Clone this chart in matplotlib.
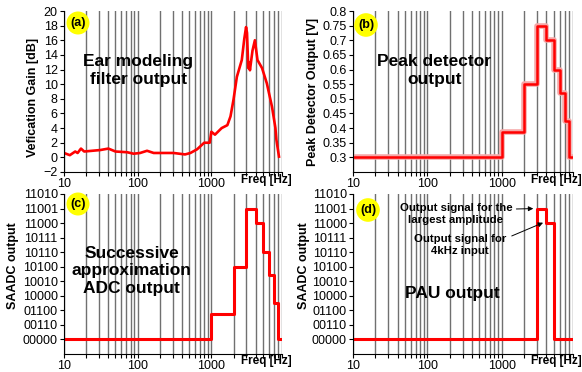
import matplotlib
matplotlib.use('Agg')
import matplotlib.pyplot as plt
import numpy as np

plt.rcParams['font.family'] = ['Liberation Sans', 'DejaVu Sans']

# ---- data ----
freq_a = [10, 12, 14.2, 15.3, 17, 18.8, 31, 40, 50, 72, 88, 108, 134, 165, 307, 440, 520,
          640, 800, 950, 1000, 1120, 1380, 1650, 1820, 2000, 2220, 2590, 2800, 2960, 3050,
          3170, 3270, 3340, 3620, 3900, 4230, 4880, 5670, 6660, 7410, 7640, 8280]
gain_a = [0.6, 0.3, 0.8, 0.6, 1.2, 0.8, 1.0, 1.2, 0.8, 0.7, 0.5, 0.6, 0.9, 0.6, 0.6, 0.4, 0.6,
          1.1, 2.0, 2.0, 3.5, 3.1, 4.0, 4.4, 5.6, 7.9, 11.0, 13.3, 16.2, 17.8, 17.0,
          12.2, 13.0, 11.9, 14.6, 16.0, 13.3, 12.2, 10.1, 6.9, 4.0, 2.4, 0.1]

step_edges = [10, 1000, 2000, 3000, 4000, 5000, 6000, 7000, 8000, 9000]
peak_v = [0.3, 0.3875, 0.55, 0.75, 0.70, 0.60, 0.52, 0.425, 0.30]
saadc_codes = ['00000', '00110', '01100', '10000', '10010', '10100',
               '10110', '10111', '11000', '11001', '11010']
saadc_lvl = [0, 1.75, 5, 9, 8, 6, 4.4, 2.5, 0]
pau_lvl = [0, 0, 0, 9, 8, 0, 0, 0, 0]
xtick_vals = [10, 100, 1000]
xtick_labels = ['10', '100', '1000']

W, H = 582, 372
fig = plt.figure(figsize=(W / 100, H / 100), dpi=100)


def px_axes(l, t, r, b):
    return fig.add_axes([l / W, 1 - b / H, (r - l) / W, (b - t) / H])


def setup(ax):
    ax.set_xscale('log')
    ax.set_xlim(10, 9100)
    ax.set_xticks(xtick_vals)
    ax.set_xticklabels(xtick_labels)
    ax.xaxis.grid(True, which='both', color='#707070', lw=1.0)
    ax.set_axisbelow(True)
    for s in ['top', 'right']:
        ax.spines[s].set_visible(False)
    ax.tick_params(axis='both', which='both', direction='out', length=3, width=0.8,
                   labelsize=9, pad=1.5)
    ax.tick_params(axis='x', which='minor', labelbottom=False)


def step_xy(vals):
    return step_edges, list(vals) + [vals[-1]]


big = dict(ha='center', va='center', fontsize=12.5, fontweight='bold', linespacing=1.2)

# (a)
axa = px_axes(64, 11, 282, 172)
setup(axa)
axa.plot(freq_a, gain_a, color='red', lw=1.9)
axa.set_ylim(-2, 20)
axa.set_yticks(np.arange(-2, 21, 2))
axa.text(0.34, 0.63, 'Ear modeling\nfilter output', transform=axa.transAxes, **big)

# (b)
axb = px_axes(353, 11, 573, 172)
setup(axb)
x, y = step_xy(peak_v)
axb.step(x, y, where='post', color='#f5a8a8', lw=4.0)
axb.step(x, y, where='post', color='red', lw=1.8)
axb.set_ylim(0.25, 0.8)
axb.set_yticks([0.3, 0.35, 0.4, 0.45, 0.5, 0.55, 0.6, 0.65, 0.7, 0.75, 0.8])
axb.set_yticklabels(['0.3', '0.35', '0.4', '0.45', '0.5', '0.55', '0.6', '0.65', '0.7', '0.75', '0.8'])
axb.text(0.37, 0.63, 'Peak detector\noutput', transform=axb.transAxes, **big)

# (c)
axc = px_axes(64, 194, 282, 354)
setup(axc)
x, y = step_xy(saadc_lvl)
axc.step(x, y, where='post', color='red', lw=2.2)
axc.set_ylim(-1, 10)
axc.set_yticks(range(len(saadc_codes)))
axc.set_yticklabels(saadc_codes)
axc.text(0.31, 0.52, 'Successive\napproximation\nADC output', transform=axc.transAxes, **big)

# (d)
axd = px_axes(353, 194, 573, 354)
setup(axd)
x, y = step_xy(pau_lvl)
axd.step(x, y, where='post', color='red', lw=2.2)
axd.set_ylim(-1, 10)
axd.set_yticks(range(len(saadc_codes)))
axd.set_yticklabels(saadc_codes)
axd.text(0.45, 0.38, 'PAU output', transform=axd.transAxes, **big)
axd.text(0.468, 0.878, 'Output signal for the\nlargest amplitude', transform=axd.transAxes,
         ha='center', va='center', fontsize=8.2, fontweight='bold', linespacing=1.25)
axd.text(0.486, 0.681, 'Output signal for\n4kHz input', transform=axd.transAxes,
         ha='center', va='center', fontsize=8.2, fontweight='bold', linespacing=1.25)
axd.annotate('', xy=(2900, 9), xycoords='data', xytext=(0.73, 0.906),
             textcoords='axes fraction',
             arrowprops=dict(arrowstyle='-|>', color='black', lw=0.7, mutation_scale=7))
axd.annotate('', xy=(3900, 8.1), xycoords='data', xytext=(0.71, 0.731),
             textcoords='axes fraction',
             arrowprops=dict(arrowstyle='-|>', color='black', lw=0.7, mutation_scale=7))

# panel letters
for lab, (cx, cy) in zip(['(a)', '(b)', '(c)', '(d)'],
                         [(78, 23), (366, 25), (78, 204), (368, 210)]):
    fig.text(cx / W, 1 - cy / H, lab, ha='center', va='center', fontsize=9,
             fontweight='bold',
             bbox=dict(boxstyle='circle,pad=0.3', fc='#ffff00', ec='none'))

# axis labels
fig.text(33 / W, 1 - 97.5 / H, 'Vefication Gain [dB]', rotation=90, ha='center',
         va='center', fontsize=9, fontweight='bold')
fig.text(313 / W, 1 - 92 / H, 'Peak Detector Output [V]', rotation=90, ha='center',
         va='center', fontsize=9, fontweight='bold')
fig.text(13 / W, 1 - 266 / H, 'SAADC output', rotation=90, ha='center',
         va='center', fontsize=9, fontweight='bold')
fig.text(304 / W, 1 - 266 / H, 'SAADC output', rotation=90, ha='center',
         va='center', fontsize=9, fontweight='bold')
for cx, cy in [(266, 180), (556, 180), (266, 361), (556, 361)]:
    fig.text(cx / W, 1 - cy / H, 'Freq [Hz]', ha='center', va='center',
             fontsize=8.5, fontweight='bold')

fig.savefig('out.png', dpi=100)
